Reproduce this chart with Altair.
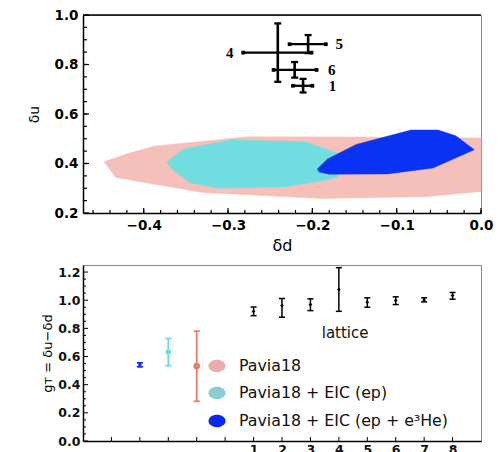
import altair as alt
import pandas as pd

# ---------------- top panel data (delta d, delta u) ----------------
pink_dd = [-0.447, -0.433, -0.330, -0.190, -0.065, 0.0, 0.0, -0.150, -0.277, -0.388, -0.419]
pink_du = [0.407, 0.343, 0.283, 0.259, 0.266, 0.287, 0.503, 0.507, 0.508, 0.470, 0.440]

cyan_dd = [-0.373, -0.354, -0.296, -0.208, -0.170, -0.170, -0.181, -0.232, -0.310, -0.345, -0.365]
cyan_du = [0.404, 0.457, 0.496, 0.487, 0.440, 0.345, 0.335, 0.306, 0.300, 0.322, 0.373]

blue_dd = [-0.194, -0.182, -0.148, -0.083, -0.051, -0.030, -0.008, -0.057, -0.111, -0.180, -0.192]
blue_du = [0.378, 0.418, 0.477, 0.535, 0.535, 0.512, 0.456, 0.382, 0.358, 0.357, 0.366]

lat_id = ["1", "4", "5", "6"]
lat_dd = [-0.211, -0.241, -0.205, -0.221]
lat_dd_lo = [-0.223, -0.282, -0.227, -0.246]
lat_dd_hi = [-0.200, -0.201, -0.184, -0.195]
lat_du = [0.714, 0.848, 0.882, 0.778]
lat_du_lo = [0.687, 0.730, 0.846, 0.747]
lat_du_hi = [0.742, 0.966, 0.919, 0.810]
lat_label_dd = [-0.176, -0.298, -0.168, -0.177]

top_x_major = [-0.4, -0.3, -0.2, -0.1, 0.0]
top_x_minor = [round(-0.46 + 0.02 * i, 2) for i in range(24)]
top_y_major = [0.2, 0.4, 0.6, 0.8, 1.0]
top_y_minor = [round(0.25 + 0.05 * i, 2) for i in range(15)]

# ---------------- bottom panel data (g_T) ----------------
fit_names = ["Pavia18 + EIC (ep + e³He)", "Pavia18 + EIC (ep)", "Pavia18"]
fit_x = [-3, -2, -1]
fit_val = [0.542, 0.632, 0.532]
fit_lo = [0.527, 0.535, 0.282]
fit_hi = [0.555, 0.728, 0.780]
fit_colors = ["#1428EE", "#66DCE0", "#EE7A68"]

lattice_x = [1, 2, 3, 4, 5, 6, 7, 8]
lattice_val = [0.921, 0.962, 0.969, 1.076, 0.986, 0.998, 1.000, 1.033]
lattice_lo = [0.890, 0.879, 0.926, 0.921, 0.950, 0.969, 0.988, 1.007]
lattice_hi = [0.952, 1.012, 1.010, 1.231, 1.017, 1.024, 1.017, 1.055]

bot_x_ticks = [-4, -3, -2, -1, 0, 1, 2, 3, 4, 5, 6, 7, 8]
bot_x_labels = [1, 2, 3, 4, 5, 6, 7, 8]
bot_y_major = [0.0, 0.2, 0.4, 0.6, 0.8, 1.0, 1.2]
bot_y_minor = [round(0.05 * i, 2) for i in range(1, 25) if i % 4 != 0]

legend_labels = ["Pavia18", "Pavia18 + EIC (ep)", "Pavia18 + EIC (ep + e³He)"]
legend_colors = ["#E8ACB1", "#8CCDD3", "#0A28F5"]

region_colors = {"pink": "#F4C0B9", "cyan": "#70DEE0", "blue": "#0A32F2"}

TW, TH = 398, 198
BW, BH = 398, 176

xs_top = alt.Scale(domain=[-0.472, 0.0], nice=False, zero=False)
ys_top = alt.Scale(domain=[0.2, 1.0], nice=False, zero=False)
xs_bot = alt.Scale(domain=[-5, 9], nice=False, zero=False)
ys_bot = alt.Scale(domain=[0.0, 1.25], nice=False, zero=False)

top_xaxis = alt.Axis(values=top_x_major, format=".1f", ticks=False, tickSize=0,
                     domain=True, domainColor="black", domainWidth=1.5, grid=False,
                     labelFont="DejaVu Sans", labelFontSize=13.5, labelFontWeight="bold",
                     labelColor="black", labelPadding=5, labelFlush=False, labelOverlap=False,
                     title="δd", titleFont="DejaVu Sans", titleFontSize=16,
                     titleFontWeight="normal", titlePadding=6)
top_yaxis = alt.Axis(values=top_y_major, format=".1f", ticks=False, tickSize=0,
                     domain=True, domainColor="black", domainWidth=1.5, grid=False,
                     labelFont="DejaVu Sans", labelFontSize=13.5, labelFontWeight="bold",
                     labelColor="black", labelPadding=5, labelFlush=False, labelOverlap=False,
                     title="δu", titleFont="DejaVu Sans", titleFontSize=14,
                     titleFontWeight="normal", titlePadding=13)
bot_xaxis = alt.Axis(values=bot_x_labels, format="d", ticks=False, tickSize=0, domain=True,
                     domainColor="black", domainWidth=1.5, grid=False, labelOverlap=False,
                     labelFont="DejaVu Sans", labelFontSize=12.5, labelFontWeight="bold",
                     labelColor="#111", labelPadding=2, title=None)
bot_yaxis = alt.Axis(values=bot_y_major, format=".1f", ticks=False, tickSize=0, domain=True,
                     domainColor="black", domainWidth=1.5, grid=False, labelOverlap=False,
                     labelFont="DejaVu Sans", labelFontSize=12.5, labelFontWeight="bold",
                     labelColor="#111", labelPadding=3, labelFlush=False,
                     title="gᴛ = δu−δd", titleFont="DejaVu Sans", titleFontSize=13,
                     titleFontWeight="normal", titlePadding=3)


def TX(f):
    return alt.X(f, scale=xs_top, axis=top_xaxis)


def TY(f):
    return alt.Y(f, scale=ys_top, axis=top_yaxis)


def BX(f):
    return alt.X(f, scale=xs_bot, axis=bot_xaxis)


def BY(f):
    return alt.Y(f, scale=ys_bot, axis=bot_yaxis)


def poly(dd, du, name):
    df = pd.DataFrame({"dd": dd + [dd[0]], "du": du + [du[0]], "o": list(range(len(dd) + 1))})
    return alt.Chart(df).mark_line(fill=region_colors[name], stroke=region_colors[name],
                                   strokeWidth=0.5, fillOpacity=1).encode(
        x=TX("dd:Q"), y=TY("du:Q"), order="o:Q")


top_regions = (poly(pink_dd, pink_du, "pink") + poly(cyan_dd, cyan_du, "cyan")
               + poly(blue_dd, blue_du, "blue"))

lat_df = pd.DataFrame({"id": lat_id, "dd": lat_dd, "ddlo": lat_dd_lo, "ddhi": lat_dd_hi,
                       "du": lat_du, "dulo": lat_du_lo, "duhi": lat_du_hi, "ldd": lat_label_dd})
base_l = alt.Chart(lat_df)
hbar = base_l.mark_rule(color="black", strokeWidth=2.3).encode(
    x=TX("ddlo:Q"), x2="ddhi:Q", y=TY("du:Q"))
vbar = base_l.mark_rule(color="black", strokeWidth=2.6).encode(
    y=TY("dulo:Q"), y2="duhi:Q", x=TX("dd:Q"))
cap_lo = base_l.mark_rule(color="black", strokeWidth=2.3, xOffset=-3.5, x2Offset=3.5).encode(
    x=TX("dd:Q"), x2="dd:Q", y=TY("dulo:Q"))
cap_hi = base_l.mark_rule(color="black", strokeWidth=2.3, xOffset=-3.5, x2Offset=3.5).encode(
    x=TX("dd:Q"), x2="dd:Q", y=TY("duhi:Q"))
end_lo = base_l.mark_square(color="black", size=14, opacity=1).encode(
    x=TX("ddlo:Q"), y=TY("du:Q"))
end_hi = base_l.mark_square(color="black", size=14, opacity=1).encode(
    x=TX("ddhi:Q"), y=TY("du:Q"))
lat_text = base_l.mark_text(font="Liberation Serif", fontWeight="bold", fontSize=15,
                            color="black", align="center", baseline="middle").encode(
    x=TX("ldd:Q"), y=TY("du:Q"), text="id:N")

# manual inward ticks, top panel
tyM = alt.Chart(pd.DataFrame({"v": top_y_major})).mark_rule(color="black", strokeWidth=1.2).encode(
    y=TY("v:Q"), x=alt.value(0), x2=alt.value(6))
tym = alt.Chart(pd.DataFrame({"v": top_y_minor})).mark_rule(color="black", strokeWidth=1.2).encode(
    y=TY("v:Q"), x=alt.value(0), x2=alt.value(4))
txM = alt.Chart(pd.DataFrame({"v": top_x_major})).mark_rule(color="black", strokeWidth=1.2).encode(
    x=TX("v:Q"), y=alt.value(TH), y2=alt.value(TH - 5))
txm = alt.Chart(pd.DataFrame({"v": top_x_minor})).mark_rule(color="black", strokeWidth=1.2).encode(
    x=TX("v:Q"), y=alt.value(TH), y2=alt.value(TH - 3))
top_border = alt.Chart(pd.DataFrame({"v": [0]})).mark_rule(color="black", strokeWidth=1.5).encode(
    x=alt.value(0), x2=alt.value(TW), y=alt.value(0))

top = alt.layer(top_regions, tyM, tym, txM, txm, top_border,
                hbar, vbar, cap_lo, cap_hi, end_lo, end_hi, lat_text).properties(width=TW, height=TH)

# ---------------- bottom panel ----------------
fit_df = pd.DataFrame({"name": fit_names, "x": fit_x, "v": fit_val, "lo": fit_lo, "hi": fit_hi})
fit_color = alt.Color("name:N", scale=alt.Scale(domain=fit_names, range=fit_colors), legend=None)

fb = alt.Chart(fit_df)
fit_bar = fb.mark_rule(strokeWidth=1.8).encode(
    x=BX("x:Q"), y=BY("lo:Q"), y2="hi:Q", color=fit_color)
fit_cap_lo = fb.mark_rule(strokeWidth=1.8, xOffset=-3, x2Offset=3).encode(
    x=BX("x:Q"), x2="x:Q", y=BY("lo:Q"), color=fit_color)
fit_cap_hi = fb.mark_rule(strokeWidth=1.8, xOffset=-3, x2Offset=3).encode(
    x=BX("x:Q"), x2="x:Q", y=BY("hi:Q"), color=fit_color)
fit_pt = fb.mark_circle(opacity=1).encode(
    x=BX("x:Q"), y=BY("v:Q"), color=fit_color,
    size=alt.Size("name:N", scale=alt.Scale(domain=fit_names, range=[12, 45, 45]), legend=None))

lt_df = pd.DataFrame({"x": lattice_x, "v": lattice_val, "lo": lattice_lo, "hi": lattice_hi})
lb = alt.Chart(lt_df)
lt_bar = lb.mark_rule(color="black", strokeWidth=1.5).encode(
    x=BX("x:Q"), y=BY("lo:Q"), y2="hi:Q")
lt_cap_lo = lb.mark_rule(color="black", strokeWidth=1.5, xOffset=-3, x2Offset=3).encode(
    x=BX("x:Q"), x2="x:Q", y=BY("lo:Q"))
lt_cap_hi = lb.mark_rule(color="black", strokeWidth=1.5, xOffset=-3, x2Offset=3).encode(
    x=BX("x:Q"), x2="x:Q", y=BY("hi:Q"))
lt_pt = lb.mark_point(shape="diamond", filled=True, color="black", size=14, opacity=1).encode(
    x=BX("x:Q"), y=BY("v:Q"))

lattice_txt = alt.Chart(pd.DataFrame({"x": [4.22], "y": [0.77], "t": ["lattice"]})).mark_text(
    font="DejaVu Sans", fontSize=15, color="#111", align="center", baseline="middle").encode(
    x=BX("x:Q"), y=BY("y:Q"), text="t:N")

byM = alt.Chart(pd.DataFrame({"v": bot_y_major})).mark_rule(color="black", strokeWidth=1).encode(
    y=BY("v:Q"), x=alt.value(0), x2=alt.value(5))
bym = alt.Chart(pd.DataFrame({"v": bot_y_minor})).mark_rule(color="black", strokeWidth=1).encode(
    y=BY("v:Q"), x=alt.value(0), x2=alt.value(3))
bxM = alt.Chart(pd.DataFrame({"v": bot_x_ticks})).mark_rule(color="black", strokeWidth=1).encode(
    x=BX("v:Q"), y=alt.value(BH), y2=alt.value(BH - 4))

ellipse = "M-1,0A1,0.72,0,1,0,1,0A1,0.72,0,1,0,-1,0Z"
leg_layers = []
leg_y = [101, 128, 156]
for lab, col, yy in zip(legend_labels, legend_colors, leg_y):
    d = pd.DataFrame({"t": [lab]})
    leg_layers.append(alt.Chart(d).mark_point(shape=ellipse, filled=True, color=col, size=290,
                                              opacity=1).encode(x=alt.value(134), y=alt.value(yy)))
    leg_layers.append(alt.Chart(d).mark_text(font="DejaVu Sans", fontSize=15.8, color="#111",
                                             align="left", baseline="middle").encode(
        x=alt.value(156), y=alt.value(yy), text="t:N"))

bottom = alt.layer(fit_bar, byM, bym, bxM, fit_cap_lo, fit_cap_hi, fit_pt,
                   lt_bar, lt_cap_lo, lt_cap_hi, lt_pt, lattice_txt, *leg_layers).properties(
    width=BW, height=BH)

chart = alt.vconcat(top, bottom, spacing=10).properties(
    padding={"left": 26, "top": 7, "right": 6, "bottom": 0},
    background="white",
).configure_view(stroke="#8a8a8a", strokeWidth=1)

chart.save("out.html", embed_options={"renderer": "svg", "actions": False})
